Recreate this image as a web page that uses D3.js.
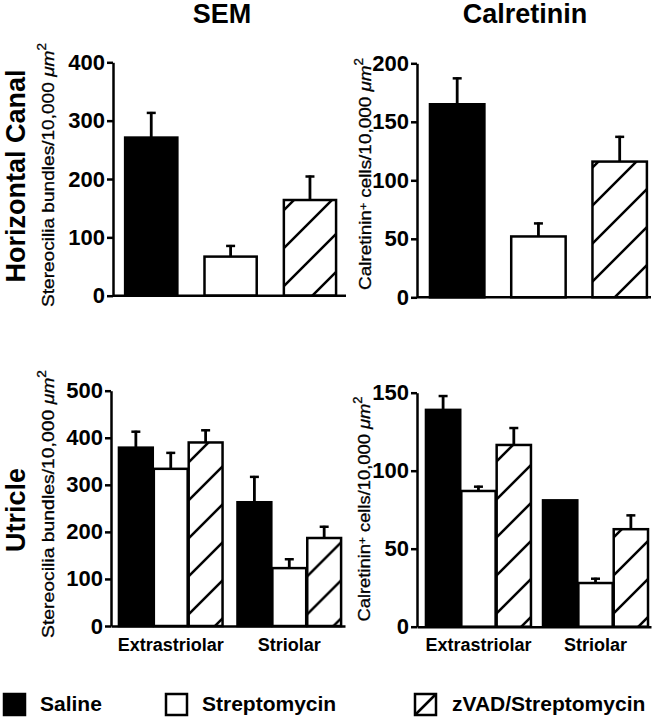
<!DOCTYPE html>
<html>
<head>
<meta charset="utf-8">
<script src="https://cdn.jsdelivr.net/npm/d3@7"></script>
<style>
  html, body { margin: 0; padding: 0; background: #fff; }
  svg { display: block; font-family: "Liberation Sans", Arial, Helvetica, sans-serif; }
</style>
</head>
<body>
<svg id="chart" width="654" height="720"></svg>
<script>
// ---------- data ----------
const treatments = ["Saline", "Streptomycin", "zVAD/Streptomycin"];
const regions = ["Extrastriolar", "Striolar"];

const hcSemMeans = [271, 67, 164];
const hcSemErr   = [44, 20, 42];
const hcCalMeans = [165, 52, 116];
const hcCalErr   = [23, 12, 22];

const utSemMeans = [[379, 334, 390], [263, 123, 187]];
const utSemErr   = [[36, 36, 28], [56, 21, 26]];
const utCalMeans = [[139, 87, 116.5], [81, 28, 62.5]];
const utCalErr   = [[9.5, 3.4, 11.5], [0, 3.4, 9.5]];

const hcSemTicks = [0, 100, 200, 300, 400];
const hcCalTicks = [0, 50, 100, 150, 200];
const utSemTicks = [0, 100, 200, 300, 400, 500];
const utCalTicks = [0, 50, 100, 150];

const columnTitles = ["SEM", "Calretinin"];
const rowTitles = ["Horizontal Canal", "Utricle"];

// ---------- setup ----------
const svg = d3.select("#chart");
const SW = 2.5;
const defs = svg.append("defs");
const pat = defs.append("pattern")
  .attr("id", "hatch").attr("patternUnits", "userSpaceOnUse")
  .attr("width", 38).attr("height", 38);
pat.append("rect").attr("width", 38).attr("height", 38).attr("fill", "#fff");
pat.append("path").attr("d", "M0,38 L38,0 M-6,6 L6,-6 M32,44 L44,32")
  .attr("stroke", "#000").attr("stroke-width", SW);

const fillFor = i => i === 0 ? "#000" : (i === 1 ? "#fff" : "url(#hatch)");

function yAxis(g, y, ticks, x0) {
  const ax = g.append("g").attr("transform", `translate(${x0},0)`)
    .call(d3.axisLeft(y).tickValues(ticks).tickSize(6).tickSizeOuter(0).tickPadding(2));
  ax.select(".domain").attr("stroke-width", SW);
  ax.selectAll(".tick line").attr("stroke-width", SW);
  ax.selectAll(".tick text").attr("font-size", 22).attr("font-weight", "bold")
    .attr("fill", "#000").attr("font-family", "Liberation Sans, Arial, sans-serif");
}

function errBar(g, cx, y, mean, err) {
  if (err <= 0) return;
  const yt = y(mean + err), yb = y(mean);
  g.append("line").attr("x1", cx).attr("x2", cx).attr("y1", yt).attr("y2", yb)
    .attr("stroke", "#000").attr("stroke-width", 2.8);
  g.append("line").attr("x1", cx - 4.5).attr("x2", cx + 4.5).attr("y1", yt + 1).attr("y2", yt + 1)
    .attr("stroke", "#000").attr("stroke-width", SW);
}

function yLabel(x, cy, main, sup, rest, len) {
  const t = svg.append("text")
    .attr("transform", `translate(${x},${cy}) rotate(-90)`)
    .attr("text-anchor", "middle").attr("font-size", 17)
    .attr("stroke", "#000").attr("stroke-width", 0.3)
    .attr("textLength", len).attr("lengthAdjust", "spacingAndGlyphs");
  t.append("tspan").text(main);
  if (sup) t.append("tspan").attr("baseline-shift", "35%").attr("font-size", 11).text(sup);
  t.append("tspan").text(rest);
  t.append("tspan").attr("font-style", "italic").text(" μm");
  t.append("tspan").attr("baseline-shift", "70%").attr("font-size", 12).text("2");
}

// ---------- simple (horizontal canal) panels ----------
function simplePanel(cfg) {
  const g = svg.append("g");
  const y = d3.scaleLinear().domain(cfg.domain).range(cfg.yRange);
  const x = d3.scaleBand().domain(treatments).range(cfg.xRange)
    .paddingInner(cfg.pI).paddingOuter(cfg.pO).align(cfg.align);
  treatments.forEach((t, i) => {
    errBar(g, x(t) + x.bandwidth() / 2, y, cfg.means[i], cfg.errs[i]);
  });
  g.selectAll("rect.bar").data(treatments).join("rect").attr("class", "bar")
    .attr("x", d => x(d)).attr("width", x.bandwidth())
    .attr("y", (d, i) => y(cfg.means[i]))
    .attr("height", (d, i) => y(0) - y(cfg.means[i]))
    .attr("fill", (d, i) => fillFor(i)).attr("stroke", "#000").attr("stroke-width", SW);
  g.append("line").attr("x1", cfg.xRange[0]).attr("x2", cfg.xRange[1])
    .attr("y1", y(0)).attr("y2", y(0)).attr("stroke", "#000").attr("stroke-width", SW);
  yAxis(g, y, cfg.ticks, cfg.xRange[0]);
}

// ---------- grouped (utricle) panels ----------
function groupPanel(cfg) {
  const g = svg.append("g");
  const y = d3.scaleLinear().domain(cfg.domain).range(cfg.yRange);
  const x0 = d3.scaleBand().domain(regions).range(cfg.xRange)
    .paddingInner(cfg.pI).paddingOuter(cfg.pO).align(cfg.align);
  const x1 = d3.scaleBand().domain(treatments).range([0, x0.bandwidth()]).paddingInner(0.03);
  regions.forEach((r, ri) => {
    const gg = g.append("g").attr("transform", `translate(${x0(r)},0)`);
    treatments.forEach((t, i) => {
      errBar(gg, x1(t) + x1.bandwidth() / 2, y, cfg.means[ri][i], cfg.errs[ri][i]);
    });
    gg.selectAll("rect").data(treatments).join("rect")
      .attr("x", d => x1(d)).attr("width", x1.bandwidth())
      .attr("y", (d, i) => y(cfg.means[ri][i]))
      .attr("height", (d, i) => y(0) - y(cfg.means[ri][i]))
      .attr("fill", (d, i) => fillFor(i)).attr("stroke", "#000").attr("stroke-width", SW);
  });
  const xa = g.append("g").attr("transform", `translate(0,${y(0)})`)
    .call(d3.axisBottom(x0).tickSize(0).tickSizeOuter(0).tickPadding(12));
  xa.select(".domain").attr("stroke-width", SW);
  xa.selectAll(".tick text").attr("font-size", 18).attr("font-weight", "bold")
    .attr("fill", "#000").attr("font-family", "Liberation Sans, Arial, sans-serif");
  yAxis(g, y, cfg.ticks, cfg.xRange[0]);
}

simplePanel({ domain: [0, 400], yRange: [295.7, 62.3], xRange: [113, 346],
  pI: 0.342, pO: 0.139, align: 0.55, means: hcSemMeans, errs: hcSemErr, ticks: hcSemTicks });
simplePanel({ domain: [0, 200], yRange: [297.3, 63.3], xRange: [417, 651],
  pI: 0.33, pO: 0.105, align: 0.76, means: hcCalMeans, errs: hcCalErr, ticks: hcCalTicks });
groupPanel({ domain: [0, 500], yRange: [626, 390.7], xRange: [111, 345],
  pI: 0.126, pO: 0.05, align: 0.67, means: utSemMeans, errs: utSemErr, ticks: utSemTicks });
groupPanel({ domain: [0, 150], yRange: [626.7, 392.7], xRange: [417, 651],
  pI: 0.103, pO: 0.051, align: 0.75, means: utCalMeans, errs: utCalErr, ticks: utCalTicks });

// ---------- axis labels ----------
yLabel(54, 175, "Stereocilia bundles/10,000", null, "", 264);
yLabel(54, 504, "Stereocilia bundles/10,000", null, "", 268);
yLabel(371, 174, "Calretinin", "+", " cells/10,000", 232);
yLabel(370, 509, "Calretinin", "+", " cells/10,000", 225);

// ---------- titles ----------
svg.selectAll("text.col").data(columnTitles).join("text").attr("class", "col")
  .attr("x", (d, i) => [222, 525][i]).attr("y", 23)
  .attr("text-anchor", "middle").attr("font-size", 27).attr("font-weight", "bold").text(d => d);
svg.selectAll("text.row").data(rowTitles).join("text").attr("class", "row")
  .attr("transform", (d, i) => `translate(25,${[176, 510][i]}) rotate(-90)`)
  .attr("text-anchor", "middle").attr("font-size", 27).attr("font-weight", "bold").text(d => d);

// ---------- legend ----------
const legX = [4, 166, 415], legTX = [40, 202, 452];
const leg = svg.append("g");
treatments.forEach((t, i) => {
  leg.append("rect").attr("x", legX[i]).attr("y", 694).attr("width", 21).attr("height", 21)
    .attr("fill", i === 0 ? "#000" : "#fff").attr("stroke", "#000").attr("stroke-width", SW);
  if (i === 2) {
    leg.append("line").attr("x1", legX[i]).attr("y1", 715).attr("x2", legX[i] + 21).attr("y2", 694)
      .attr("stroke", "#000").attr("stroke-width", SW);
  }
  leg.append("text").attr("x", legTX[i]).attr("y", 711).attr("font-size", 21)
    .attr("font-weight", "bold").text(t);
});
</script>
</body>
</html>
